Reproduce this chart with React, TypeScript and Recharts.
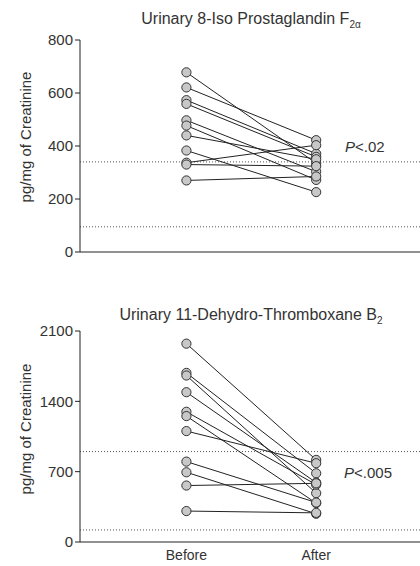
import React from 'react';
import { LineChart, Line, XAxis, YAxis, ReferenceLine } from 'recharts';

// 8-iso PGF2a, pg/mg creatinine
const isoBefore = [678, 621, 573, 559, 497, 477, 440, 383, 337, 330, 270];
const isoAfter = [335, 422, 371, 359, 303, 272, 350, 226, 403, 324, 285];
const isoTicks = [0, 200, 400, 600, 800];
const isoRefs = [340, 95];

// 11-dehydro-TXB2, pg/mg creatinine
const txBefore = [1974, 1683, 1657, 1491, 1296, 1253, 1104, 800, 694, 562, 308];
const txAfter = [817, 684, 486, 591, 571, 387, 784, 393, 281, 584, 290];
const txTicks = [0, 700, 1400, 2100];
const txRefs = [900, 120];

const groups = ['Before', 'After'];

const font = '"Liberation Sans", Arial, Helvetica, sans-serif';
const textColor = '#333';

const Dot = (props: any) => {
  const { cx, cy } = props;
  if (cx == null || cy == null) return null;
  return <circle cx={cx} cy={cy} r={4.6} fill="#c8c8c8" stroke="#333" strokeWidth={1} />;
};

const Panel = ({
  before,
  after,
  ticks,
  refs,
  showX,
  height,
  top,
  bottom,
}: {
  before: number[];
  after: number[];
  ticks: number[];
  refs: number[];
  showX: boolean;
  height: number;
  top: number;
  bottom: number;
}) => {
  const max = ticks[ticks.length - 1];
  const beforePts = before.map((y) => ({ x: 1, y }));
  const afterPts = after.map((y) => ({ x: 2, y }));
  return (
    <LineChart
      width={420}
      height={height}
      margin={{ top, right: 0, left: 0, bottom }}
      style={{ fontFamily: font }}
    >
      <XAxis
        dataKey="x"
        type="number"
        domain={[0.18, 2.8]}
        ticks={[1, 2]}
        tickFormatter={(v: number) => groups[v - 1]}
        tickLine={false}
        tick={showX ? { fill: textColor, fontSize: 14 } : false}
        height={showX ? 24 : 6}
        stroke="#222"
        allowDataOverflow
      />
      <YAxis
        type="number"
        domain={[0, max]}
        ticks={ticks}
        width={80}
        tickSize={5}
        tick={{ fill: textColor, fontSize: 15 }}
        stroke="#222"
        interval={0}
      />
      {refs.map((r) => (
        <ReferenceLine key={r} y={r} stroke="#555" strokeDasharray="1 2" />
      ))}
      {before.map((b, i) => (
        <Line
          key={'p' + i}
          data={[
            { x: 1, y: b },
            { x: 2, y: after[i] },
          ]}
          dataKey="y"
          stroke="#222"
          strokeWidth={1}
          dot={false}
          activeDot={false}
          isAnimationActive={false}
        />
      ))}
      <Line data={beforePts} dataKey="y" stroke="none" dot={<Dot />} activeDot={false} isAnimationActive={false} />
      <Line data={afterPts} dataKey="y" stroke="none" dot={<Dot />} activeDot={false} isAnimationActive={false} />
    </LineChart>
  );
};

const abs = (left: number, top: number, size = 14): React.CSSProperties => ({
  position: 'absolute',
  left,
  top,
  fontFamily: font,
  fontSize: size,
  color: textColor,
  whiteSpace: 'nowrap',
});

const YLabel = ({ cy }: { cy: number }) => (
  <div
    style={{
      ...abs(25, cy, 15),
      transform: 'translate(-50%, -50%) rotate(-90deg)',
    }}
  >
    pg/mg of Creatinine
  </div>
);

export default function App() {
  return (
    <div style={{ position: 'absolute', left: 0, top: 0, width: 420, height: 566, background: '#fff', overflow: 'hidden' }}>
      <div style={{ position: 'absolute', left: 0, top: 0 }}>
        <Panel before={isoBefore} after={isoAfter} ticks={isoTicks} refs={isoRefs} showX={false} height={262} top={40} bottom={4} />
      </div>
      <div style={{ position: 'absolute', left: 0, top: 290 }}>
        <Panel before={txBefore} after={txAfter} ticks={txTicks} refs={txRefs} showX height={276} top={41} bottom={0} />
      </div>

      <div style={{ ...abs(251, 20, 16), transform: 'translate(-50%, -50%)' }}>
        Urinary 8-Iso Prostaglandin F<sub style={{ fontSize: 10 }}>2α</sub>
      </div>
      <div style={{ ...abs(251, 316, 16), transform: 'translate(-50%, -50%)' }}>
        Urinary 11-Dehydro-Thromboxane B<sub style={{ fontSize: 10 }}>2</sub>
      </div>

      <YLabel cy={137} />
      <YLabel cy={429} />

      <div style={{ ...abs(345, 146, 15), transform: 'translateY(-50%)' }}>
        <i>P</i>&lt;.02
      </div>
      <div style={{ ...abs(344, 472, 15), transform: 'translateY(-50%)' }}>
        <i>P</i>&lt;.005
      </div>
    </div>
  );
}
